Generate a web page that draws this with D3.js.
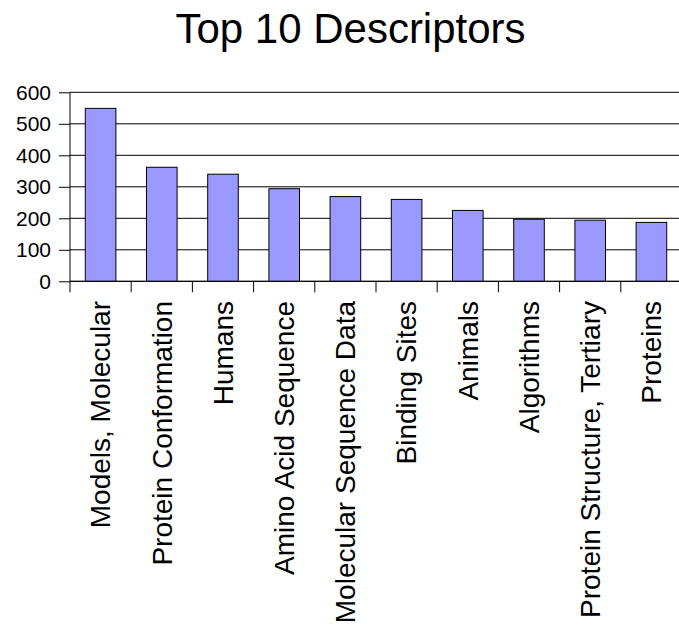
<!DOCTYPE html>
<html>
<head>
<meta charset="utf-8">
<script src="https://cdn.jsdelivr.net/npm/d3@7"></script>
<style>
  body { margin: 0; background: #fff; }
  svg { display: block; }
  text { font-family: "Liberation Sans", Arial, sans-serif; fill: #000; }
</style>
</head>
<body>
<svg id="chart" width="679" height="626"></svg>
<script>
const title = "Top 10 Descriptors";
const categories = [
  "Models, Molecular", "Protein Conformation", "Humans", "Amino Acid Sequence",
  "Molecular Sequence Data", "Binding Sites", "Animals", "Algorithms",
  "Protein Structure, Tertiary", "Proteins"
];
const values = [549, 362, 340, 294, 269, 260, 225, 197, 194, 187];
const yTicks = [0, 100, 200, 300, 400, 500, 600];

const svg = d3.select("#chart");
const mLeft = 70, mRight = 682, mTop = 92.3, mBottom = 281.3;

const x = d3.scaleBand().domain(categories).range([mLeft, mRight]).paddingInner(0.5).paddingOuter(0.25);
const xb = d3.scaleBand().domain(categories).range([mLeft, mRight]);
const y = d3.scaleLinear().domain([0, 600]).range([mBottom, mTop]);

// title
svg.append("text").attr("x", 350.5).attr("y", 43).attr("text-anchor", "middle")
  .style("font-size", "42px").text(title);

// gridlines
svg.append("g").selectAll("line").data(yTicks).join("line")
  .attr("x1", mLeft).attr("x2", 679)
  .attr("y1", d => y(d)).attr("y2", d => y(d))
  .attr("stroke", "#000").attr("stroke-width", 1);

// y axis
const yAxis = d3.axisLeft(y).tickValues(yTicks).tickSize(11).tickPadding(8);
const gy = svg.append("g").attr("transform", `translate(${mLeft},0)`).call(yAxis);
gy.select(".domain").remove();
gy.selectAll("line").attr("stroke", "#000");
gy.selectAll("text").style("font-size", "21px").attr("fill", "#000")
  .style("font-family", '"Liberation Sans", Arial, sans-serif');
svg.append("line").attr("x1", mLeft).attr("x2", mLeft).attr("y1", mTop).attr("y2", mBottom + 11)
  .attr("stroke", "#000");

// bars
svg.append("g").selectAll("rect").data(values).join("rect")
  .attr("x", (d, i) => x(categories[i]))
  .attr("width", x.bandwidth())
  .attr("y", d => y(d))
  .attr("height", d => y(0) - y(d))
  .attr("fill", "#9999ff").attr("stroke", "#000").attr("stroke-width", 1);

// x axis baseline + ticks at band boundaries
svg.append("line").attr("x1", mLeft).attr("x2", 679).attr("y1", mBottom).attr("y2", mBottom).attr("stroke", "#000");
svg.append("g").selectAll("line").data(categories).join("line")
  .attr("x1", d => xb(d) + xb.bandwidth()).attr("x2", d => xb(d) + xb.bandwidth())
  .attr("y1", mBottom).attr("y2", mBottom + 11).attr("stroke", "#000");

// category labels
svg.append("g").selectAll("text").data(categories).join("text")
  .attr("transform", d => `translate(${xb(d) + xb.bandwidth() / 2},301) rotate(-90)`)
  .attr("text-anchor", "end").attr("dy", "0.35em")
  .style("font-size", "28px").text(d => d);
</script>
</body>
</html>
